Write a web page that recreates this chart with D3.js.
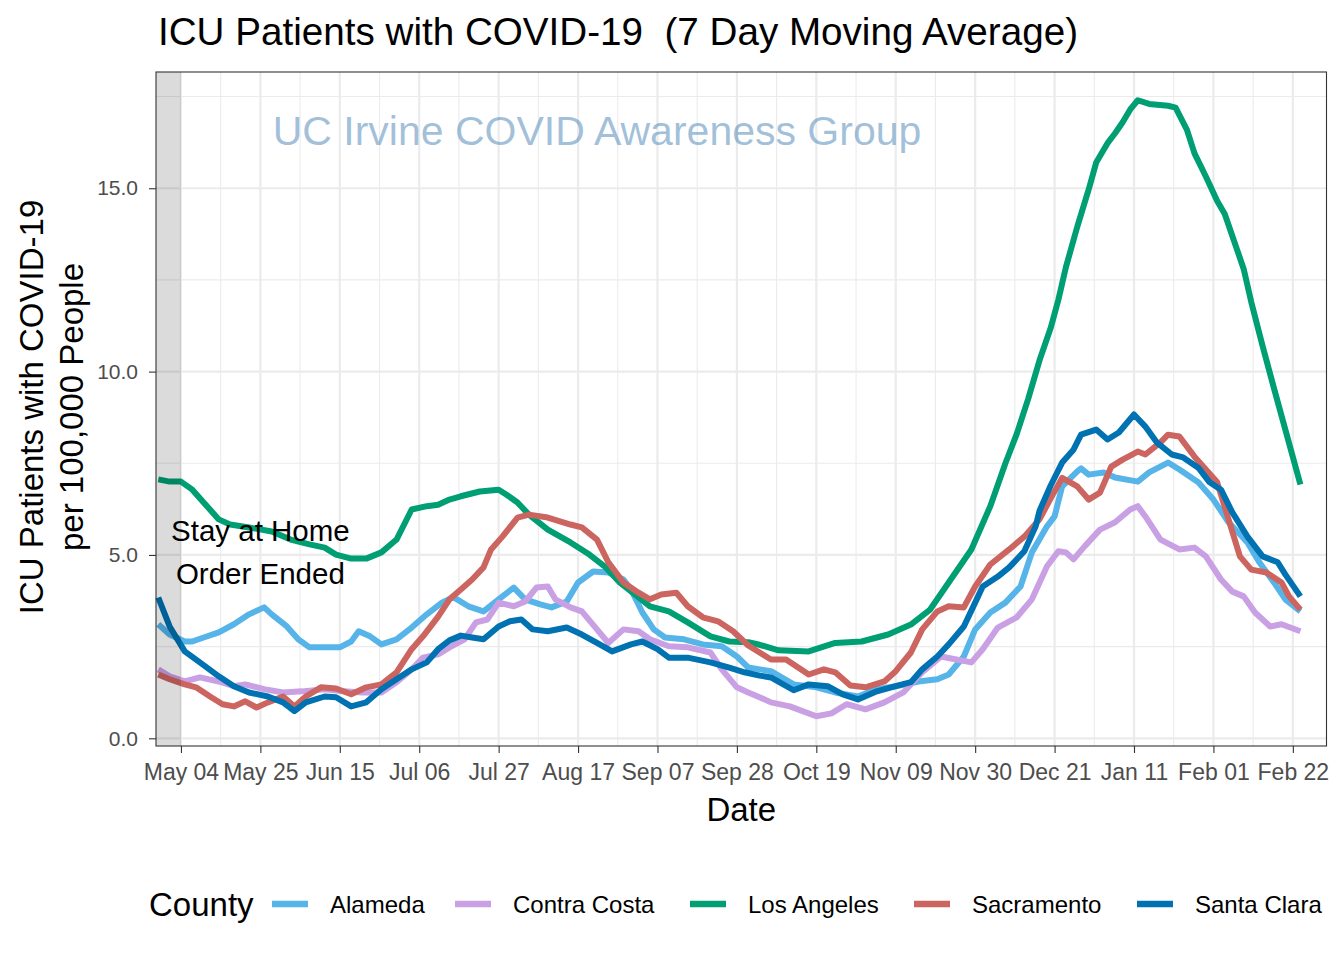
<!DOCTYPE html>
<html><head><meta charset="utf-8">
<script src="https://cdn.jsdelivr.net/npm/d3@7"></script>
<style>
html,body{margin:0;padding:0;background:#fff;}
text{font-family:"Liberation Sans",Arial,Helvetica,sans-serif;}
</style></head>
<body><svg id="chart" width="1344" height="960"></svg>
<script>
// ---------------- DATA ----------------
const baseDate = "2020-05-04";            // day 0
const counties = ["Alameda","Contra Costa","Los Angeles","Sacramento","Santa Clara"];
const countyColors = ["#56B4E9","#C9A0E3","#009E73","#CC6460","#0072B2"];
const yTicks = [0, 5, 10, 15];
const xTickDays = [0,21,42,63,84,105,126,147,168,189,210,231,252,273,294];
const xTickLabels = ["May 04","May 25","Jun 15","Jul 06","Jul 27","Aug 17","Sep 07","Sep 28","Oct 19","Nov 09","Nov 30","Dec 21","Jan 11","Feb 01","Feb 22"];
const shadeEndDay = 0;   // Stay at Home order ended (May 04)

// [day offset from baseDate, ICU patients per 100k]
const alameda = [[-6,3.11],[-3,2.83],[1,2.64],[3,2.64],[6,2.75],[10,2.89],[14,3.11],[18,3.38],[22,3.57],[24,3.38],[28,3.05],[31,2.7],[34,2.48],[38,2.48],[42,2.48],[45,2.64],[47,2.92],[50,2.78],[53,2.56],[57,2.7],[61,3.02],[65,3.38],[69,3.7],[72,3.85],[76,3.6],[80,3.46],[84,3.79],[88,4.11],[91,3.79],[95,3.65],[98,3.57],[102,3.73],[105,4.25],[109,4.55],[113,4.52],[117,4.33],[119,4.06],[122,3.43],[125,2.97],[128,2.75],[133,2.7],[138,2.56],[143,2.51],[147,2.23],[150,1.93],[153,1.88],[156,1.83],[162,1.47],[168,1.39],[173,1.25],[179,1.14],[184,1.34],[189,1.42],[195,1.55],[200,1.61],[203,1.74],[207,2.23],[210,2.97],[214,3.43],[218,3.7],[222,4.14],[225,5.07],[229,5.78],[231,6.05],[233,6.87],[237,7.28],[238,7.36],[240,7.19],[244,7.25],[247,7.11],[253,7.0],[256,7.25],[261,7.52],[264,7.33],[269,6.98],[273,6.51],[277,5.89],[282,5.34],[285,4.82],[289,4.25],[292,3.79],[296,3.46]];

const contraCosta = [[-6,1.88],[-3,1.69],[1,1.55],[5,1.66],[10,1.55],[14,1.42],[17,1.47],[22,1.34],[27,1.25],[32,1.28],[38,1.34],[43,1.28],[48,1.25],[53,1.25],[57,1.53],[61,1.88],[64,2.2],[68,2.29],[71,2.48],[75,2.7],[78,3.16],[81,3.24],[84,3.7],[88,3.6],[91,3.73],[94,4.11],[97,4.14],[99,3.79],[103,3.57],[106,3.46],[110,2.97],[113,2.6],[117,2.97],[121,2.92],[124,2.7],[129,2.51],[134,2.48],[140,2.34],[143,1.88],[147,1.39],[150,1.25],[153,1.12],[156,0.98],[161,0.87],[168,0.6],[172,0.68],[176,0.93],[181,0.79],[186,0.98],[191,1.25],[196,1.8],[201,2.23],[205,2.15],[209,2.07],[212,2.43],[216,3.02],[221,3.3],[225,3.79],[229,4.69],[232,5.1],[234,5.07],[236,4.88],[239,5.24],[243,5.69],[247,5.89],[251,6.24],[253,6.33],[255,6.05],[259,5.42],[264,5.15],[268,5.2],[271,4.96],[275,4.33],[278,4.0],[281,3.87],[284,3.43],[288,3.05],[291,3.11],[296,2.92]];

const losAngeles = [[-6,7.06],[-3,7.0],[0,7.0],[3,6.78],[6,6.43],[10,5.97],[13,5.83],[18,5.75],[24,5.64],[29,5.42],[34,5.29],[38,5.2],[41,5.01],[45,4.9],[49,4.9],[53,5.07],[57,5.42],[61,6.24],[65,6.33],[68,6.37],[71,6.51],[74,6.6],[79,6.73],[84,6.78],[86,6.65],[89,6.43],[92,6.1],[97,5.69],[103,5.34],[108,5.01],[112,4.69],[116,4.25],[121,3.84],[124,3.6],[129,3.46],[134,3.16],[140,2.78],[145,2.64],[150,2.62],[153,2.55],[158,2.4],[166,2.37],[173,2.6],[180,2.64],[187,2.83],[193,3.1],[198,3.5],[203,4.25],[209,5.15],[214,6.33],[218,7.5],[221,8.3],[224,9.25],[227,10.3],[230,11.2],[232,11.96],[234,12.85],[237,13.95],[240,14.96],[242,15.7],[245,16.23],[247,16.5],[249,16.8],[251,17.15],[253,17.4],[256,17.3],[261,17.25],[263,17.2],[266,16.59],[268,15.95],[271,15.32],[274,14.65],[276,14.3],[278,13.7],[281,12.8],[283,11.9],[286,10.7],[289,9.55],[296,6.92]];

const sacramento = [[-6,1.74],[-3,1.61],[1,1.47],[4,1.39],[8,1.12],[11,0.93],[14,0.87],[17,1.01],[20,0.84],[23,0.98],[27,1.14],[30,0.87],[33,1.14],[37,1.39],[41,1.36],[45,1.2],[49,1.39],[53,1.47],[57,1.8],[61,2.43],[64,2.78],[68,3.32],[71,3.79],[74,4.06],[77,4.33],[80,4.66],[82,5.15],[85,5.5],[89,6.02],[92,6.1],[97,6.02],[103,5.83],[106,5.75],[110,5.42],[113,4.8],[117,4.25],[121,3.97],[124,3.79],[127,3.92],[131,3.97],[134,3.6],[138,3.3],[142,3.19],[146,2.92],[150,2.53],[153,2.34],[156,2.15],[160,2.15],[166,1.74],[170,1.88],[173,1.8],[177,1.44],[181,1.39],[186,1.55],[189,1.83],[193,2.34],[196,2.97],[200,3.46],[203,3.6],[207,3.57],[210,4.14],[214,4.74],[219,5.15],[223,5.5],[227,5.97],[230,6.55],[233,7.1],[237,6.87],[240,6.51],[243,6.7],[246,7.41],[249,7.6],[253,7.82],[255,7.74],[259,8.07],[261,8.28],[264,8.23],[268,7.68],[271,7.33],[274,6.98],[277,5.97],[280,4.96],[283,4.6],[287,4.52],[291,4.25],[293,3.87],[296,3.51]];

const santaClara = [[-6,3.84],[-3,3.05],[1,2.37],[5,2.07],[10,1.69],[14,1.42],[18,1.25],[23,1.14],[27,0.98],[30,0.74],[33,0.98],[38,1.14],[41,1.12],[45,0.87],[49,0.98],[53,1.34],[57,1.61],[61,1.88],[65,2.07],[68,2.43],[71,2.67],[74,2.8],[77,2.75],[80,2.7],[84,3.05],[87,3.19],[90,3.24],[93,2.97],[97,2.92],[102,3.02],[106,2.83],[110,2.6],[114,2.37],[119,2.56],[122,2.64],[126,2.43],[129,2.2],[134,2.2],[140,2.07],[145,1.93],[149,1.8],[153,1.71],[156,1.66],[162,1.31],[166,1.47],[171,1.42],[175,1.2],[179,1.06],[184,1.28],[189,1.42],[193,1.53],[196,1.88],[200,2.23],[203,2.56],[207,3.05],[210,3.7],[212,4.14],[216,4.41],[219,4.66],[223,5.1],[226,5.78],[227,6.2],[230,6.9],[233,7.52],[236,7.87],[238,8.28],[242,8.42],[245,8.15],[248,8.34],[252,8.83],[255,8.5],[258,8.07],[262,7.74],[265,7.66],[269,7.38],[272,6.98],[275,6.78],[278,6.16],[282,5.5],[286,4.96],[290,4.8],[292,4.47],[296,3.87]];

const seriesValues = [alameda, contraCosta, losAngeles, sacramento, santaClara];

// ---------------- CHART ----------------
const svg = d3.select("#chart");
const W = 1344, H = 960;
const panel = {left:156, right:1326.5, top:72, bottom:746};
const base = d3.utcParse("%Y-%m-%d")(baseDate);
const dayToDate = d => new Date(base.getTime() + d*864e5);

const x = d3.scaleUtc()
  .domain([dayToDate(-6.6), dayToDate(302.9)])
  .range([panel.left, panel.right]);
const y = d3.scaleLinear()
  .domain([-0.21, 18.17])
  .range([panel.bottom, panel.top]);

svg.append("rect").attr("width",W).attr("height",H).attr("fill","#fff");

const g = svg.append("g");
// minor grid
const xMinor = d3.range(-10.5, 310, 21).map(dayToDate).filter(d => d > x.domain()[0] && d < x.domain()[1]);
const yMinor = [2.5, 7.5, 12.5, 17.5];
g.selectAll(".vminor").data(xMinor).join("line")
  .attr("x1", d=>x(d)).attr("x2", d=>x(d)).attr("y1", panel.top).attr("y2", panel.bottom)
  .attr("stroke","#EBEBEB").attr("stroke-width",1.1);
g.selectAll(".hminor").data(yMinor).join("line")
  .attr("x1", panel.left).attr("x2", panel.right).attr("y1", d=>y(d)).attr("y2", d=>y(d))
  .attr("stroke","#EBEBEB").attr("stroke-width",1.1);
// major grid
g.selectAll(".vmajor").data(xTickDays.map(dayToDate)).join("line")
  .attr("x1", d=>x(d)).attr("x2", d=>x(d)).attr("y1", panel.top).attr("y2", panel.bottom)
  .attr("stroke","#EBEBEB").attr("stroke-width",2.2);
g.selectAll(".hmajor").data(yTicks).join("line")
  .attr("x1", panel.left).attr("x2", panel.right).attr("y1", d=>y(d)).attr("y2", d=>y(d))
  .attr("stroke","#EBEBEB").attr("stroke-width",2.2);

// watermark
svg.append("text").attr("x", 597).attr("y", 145).attr("text-anchor","middle")
  .attr("font-size", 41).attr("fill","steelblue").attr("fill-opacity",0.5)
  .text("UC Irvine COVID Awareness Group");

// lines
const line = d3.line().x(d => x(dayToDate(d[0]))).y(d => y(d[1])).curve(d3.curveLinear);
svg.append("g").selectAll("path").data(seriesValues).join("path")
  .attr("d", line).attr("fill","none")
  .attr("stroke", (d,i) => countyColors[i])
  .attr("stroke-width", 6).attr("stroke-linejoin","round").attr("stroke-linecap","butt");

// shaded period
svg.append("rect")
  .attr("x", x(x.domain()[0])).attr("y", panel.top)
  .attr("width", x(dayToDate(shadeEndDay)) - x(x.domain()[0]))
  .attr("height", panel.bottom - panel.top)
  .attr("fill","#000").attr("fill-opacity",0.14);

// annotation
const ann = svg.append("text").attr("font-size", 29.5).attr("fill","#000").attr("text-anchor","middle");
ann.append("tspan").attr("x", x(dayToDate(21))).attr("y", 541).text("Stay at Home");
ann.append("tspan").attr("x", x(dayToDate(21))).attr("y", 584).text("Order Ended");

// panel border
svg.append("rect").attr("x",panel.left).attr("y",panel.top)
  .attr("width",panel.right-panel.left).attr("height",panel.bottom-panel.top)
  .attr("fill","none").attr("stroke","#333").attr("stroke-width",1.1);

// y axis
const yAxis = svg.append("g").attr("transform",`translate(${panel.left},0)`)
  .call(d3.axisLeft(y).tickValues(yTicks).tickFormat(d3.format(".1f")).tickSize(7).tickPadding(11));
yAxis.select(".domain").remove();
yAxis.selectAll("line").attr("stroke","#333").attr("stroke-width",1.1);
yAxis.selectAll("text").attr("font-size",21).attr("fill","#4D4D4D").attr("font-family","Liberation Sans, Arial, sans-serif");

// x axis
const xAxis = svg.append("g").attr("transform",`translate(0,${panel.bottom})`)
  .call(d3.axisBottom(x).tickValues(xTickDays.map(dayToDate))
    .tickFormat((d,i) => xTickLabels[i]).tickSize(7).tickPadding(11));
xAxis.select(".domain").remove();
xAxis.selectAll("line").attr("stroke","#333").attr("stroke-width",1.1);
xAxis.selectAll("text").attr("font-size",23).attr("fill","#4D4D4D").attr("font-family","Liberation Sans, Arial, sans-serif");

// axis titles
svg.append("text").attr("x",(panel.left+panel.right)/2).attr("y",821).attr("text-anchor","middle")
  .attr("font-size",33).text("Date");
const yt = svg.append("text").attr("transform","translate(0,407) rotate(-90)").attr("text-anchor","middle").attr("font-size",33);
yt.append("tspan").attr("x",0).attr("y",43).text("ICU Patients with COVID-19");
yt.append("tspan").attr("x",0).attr("y",83).text("per 100,000 People");

// title
svg.append("text").attr("x",158).attr("y",45).attr("font-size",39)
  .attr("textLength",920).attr("lengthAdjust","spacingAndGlyphs")
  .style("white-space","pre")
  .text("ICU Patients with COVID-19  (7 Day Moving Average)");

// legend
const legend = svg.append("g");
legend.append("text").attr("x",149).attr("y",916).attr("font-size",33).text("County");
const legendKeyX = [272, 455, 690, 914, 1137];
counties.forEach((c,i) => {
  legend.append("line").attr("x1",legendKeyX[i]).attr("x2",legendKeyX[i]+36)
    .attr("y1",904).attr("y2",904).attr("stroke",countyColors[i]).attr("stroke-width",6.5);
  legend.append("text").attr("x",legendKeyX[i]+58).attr("y",913).attr("font-size",24).text(c);
});
</script></body></html>
